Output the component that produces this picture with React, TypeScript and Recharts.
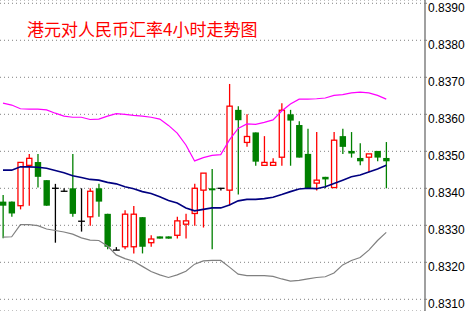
import { Bar, CartesianGrid, ComposedChart, Line, XAxis, YAxis } from "recharts";

// 4h candles, HKD/CNY
const opens = [
  0.83364, 0.83364, 0.83353, 0.83462, 0.83471, 0.83422, 0.834, 0.83392, 0.834, 0.83311,
  0.83323, 0.834, 0.83331, 0.83233, 0.83242, 0.83242, 0.83322, 0.83253, 0.8327, 0.8327,
  0.83273, 0.83303, 0.83332, 0.83395, 0.834, 0.834, 0.83395, 0.83612, 0.83524, 0.83551,
  0.83462, 0.83462, 0.83484, 0.836, 0.83571, 0.83493, 0.83414, 0.83431, 0.83402, 0.83541,
  0.83501, 0.83482, 0.83484, 0.83501, 0.83482
];
const closes = [
  0.83353, 0.83332, 0.8347, 0.83481, 0.83431, 0.83353, 0.834, 0.83392, 0.83331, 0.83311,
  0.83392, 0.83364, 0.83242, 0.83233, 0.8333, 0.8333, 0.83242, 0.83263, 0.83264, 0.83264,
  0.83312, 0.83312, 0.834, 0.83441, 0.83395, 0.834, 0.83622, 0.83584, 0.8354, 0.83472,
  0.8347, 0.8347, 0.83611, 0.83583, 0.83483, 0.834, 0.83422, 0.83424, 0.8353, 0.83512,
  0.83494, 0.83473, 0.83493, 0.83483, 0.83473
];
const highs = [
  0.83382, 0.83364, 0.8347, 0.83493, 0.83493, 0.83422, 0.83412, 0.834, 0.83493, 0.834,
  0.834, 0.83412, 0.83331, 0.83241, 0.83341, 0.83352, 0.83322, 0.83273, 0.8327, 0.8327,
  0.83323, 0.83331, 0.83412, 0.83441, 0.83452, 0.834, 0.83682, 0.83622, 0.836, 0.83551,
  0.83541, 0.83481, 0.8363, 0.83612, 0.83581, 0.83561, 0.83552, 0.83431, 0.83552, 0.83561,
  0.83552, 0.83522, 0.83493, 0.83501, 0.83525
];
const lows = [
  0.83265, 0.83323, 0.83343, 0.83353, 0.83402, 0.83353, 0.83253, 0.83391, 0.83323, 0.83283,
  0.83299, 0.83323, 0.83235, 0.83233, 0.83235, 0.83224, 0.83224, 0.83242, 0.83264, 0.83264,
  0.83264, 0.83264, 0.83299, 0.83294, 0.83235, 0.83394, 0.83354, 0.83383, 0.83512, 0.83461,
  0.83462, 0.83462, 0.83461, 0.83461, 0.83483, 0.834, 0.83394, 0.834, 0.83402, 0.83493,
  0.83483, 0.83462, 0.83444, 0.83473, 0.834
];

// bollinger bands
const upperBand = [
  0.8363, 0.83625, 0.83615, 0.83614, 0.83614, 0.83612, 0.83603, 0.83595, 0.83592, 0.83592,
  0.83586, 0.83587, 0.83595, 0.83602, 0.836, 0.83597, 0.83595, 0.83592, 0.83587, 0.8357,
  0.83549, 0.83517, 0.83474, 0.83483, 0.83489, 0.83491, 0.83531, 0.83562, 0.83574, 0.83573,
  0.83578, 0.83585, 0.83609, 0.83628, 0.83641, 0.83641, 0.83642, 0.83644, 0.83651, 0.83653,
  0.83658, 0.8366, 0.83658, 0.83651, 0.83641
];
const midBand = [
  0.83449, 0.83449, 0.83458, 0.83458, 0.83457, 0.83454, 0.83448, 0.83442, 0.83434, 0.83429,
  0.83424, 0.83422, 0.83416, 0.83412, 0.83404, 0.83399, 0.83391, 0.83386, 0.83377, 0.83367,
  0.8336, 0.83347, 0.83339, 0.83343, 0.83347, 0.83347, 0.83355, 0.83366, 0.8337, 0.8337,
  0.83372, 0.83376, 0.83383, 0.83391, 0.83398, 0.834, 0.83399, 0.83404, 0.83413, 0.83422,
  0.83431, 0.83436, 0.83444, 0.83452, 0.83462
];
const lowerBand = [
  0.83268, 0.83269, 0.83302, 0.83302, 0.83299, 0.8329, 0.83286, 0.83282, 0.83276, 0.83266,
  0.8326, 0.83259, 0.83244, 0.8322, 0.8321, 0.83203, 0.83189, 0.83175, 0.83166, 0.83159,
  0.83166, 0.83176, 0.83195, 0.83204, 0.83205, 0.83205, 0.83187, 0.83168, 0.83164, 0.83164,
  0.83164, 0.83162, 0.83155, 0.83149, 0.83151, 0.83155, 0.83159, 0.83161, 0.83171, 0.83193,
  0.83205, 0.83213, 0.83233, 0.83259, 0.83281
];

const yTicks = [0.831, 0.832, 0.833, 0.834, 0.835, 0.836, 0.837, 0.838, 0.839];

const data = opens.map((open, i) => ({
  i,
  open,
  close: closes[i],
  high: highs[i],
  low: lows[i],
  range: [lows[i], highs[i]],
  upper: upperBand[i],
  mid: midBand[i],
  lower: lowerBand[i]
}));

const RED = "#ff0000";
const GREEN = "#008000";

function Candle(props: any) {
  const { x, y, width, height, payload } = props;
  const { open, close, high, low } = payload;
  const top = Math.min(y, y + height);
  const h = Math.abs(height);
  const span = high - low;
  const py = (v: number) => (span > 0 ? top + ((high - v) / span) * h : top);
  const cx = x + width / 2;
  const yo = py(open);
  const yc = py(close);
  const yh = py(high);
  const yl = py(low);

  if (close > open) {
    return (
      <g>
        <line x1={cx} x2={cx} y1={yh} y2={yl} stroke={RED} strokeWidth={1.3} />
        <rect x={cx - 2.6} y={yc} width={5.2} height={Math.max(yo - yc, 1)} fill="#fff" stroke={RED} strokeWidth={1.3} />
      </g>
    );
  }
  if (close < open) {
    return (
      <g>
        <line x1={cx} x2={cx} y1={yh} y2={yl} stroke={GREEN} strokeWidth={1.3} />
        <rect x={cx - 3.2} y={yo} width={6.4} height={Math.max(yc - yo, 2)} fill={GREEN} />
      </g>
    );
  }
  return (
    <g>
      <line x1={cx} x2={cx} y1={yh} y2={yl} stroke="#000" strokeWidth={1.3} />
      <line x1={cx - 3.4} x2={cx + 3.4} y1={yo} y2={yo} stroke="#000" strokeWidth={1.3} />
    </g>
  );
}

const noDot = () => null;

export default function App() {
  return (
    <div style={{ position: "absolute", left: 0, top: 0, width: 467, height: 311, background: "#fff" }}>
      <ComposedChart width={467} height={311} data={data} margin={{ top: 0, right: 0, left: 0, bottom: 0 }}>
        <CartesianGrid horizontal vertical={false} stroke="#808080" strokeDasharray="1 3" />
        <XAxis dataKey="i" type="number" domain={[-0.344, 48.45]} hide allowDataOverflow />
        <YAxis
          orientation="right"
          width={42}
          domain={[0.830684, 0.839089]}
          ticks={yTicks}
          allowDataOverflow
          interval={0}
          tickFormatter={(v: number) => v.toFixed(4)}
          axisLine={{ stroke: "#808080", strokeWidth: 1.5 }}
          tickLine={{ stroke: "#808080" }}
          tickSize={2}
          tickMargin={1}
          tick={{ fill: "#000", fontSize: 12, fontFamily: "Liberation Sans", dy: 4 }}
        />
        <Line dataKey="upper" stroke="#ff00ff" strokeWidth={1.2} dot={noDot} activeDot={false} type="linear" isAnimationActive={false} />
        <Line dataKey="mid" stroke="#000080" strokeWidth={1.6} dot={noDot} activeDot={false} type="linear" isAnimationActive={false} />
        <Line dataKey="lower" stroke="#808080" strokeWidth={1.2} dot={noDot} activeDot={false} type="linear" isAnimationActive={false} />
        <Bar dataKey="range" barSize={7} shape={Candle} isAnimationActive={false} />
      </ComposedChart>
      <div
        style={{
          position: "absolute",
          left: 27,
          top: 19,
          color: RED,
          fontSize: 17,
          lineHeight: "20px",
          fontFamily: "Noto Sans CJK SC",
          whiteSpace: "nowrap"
        }}
      >
        港元对人民币汇率4小时走势图
      </div>
    </div>
  );
}
